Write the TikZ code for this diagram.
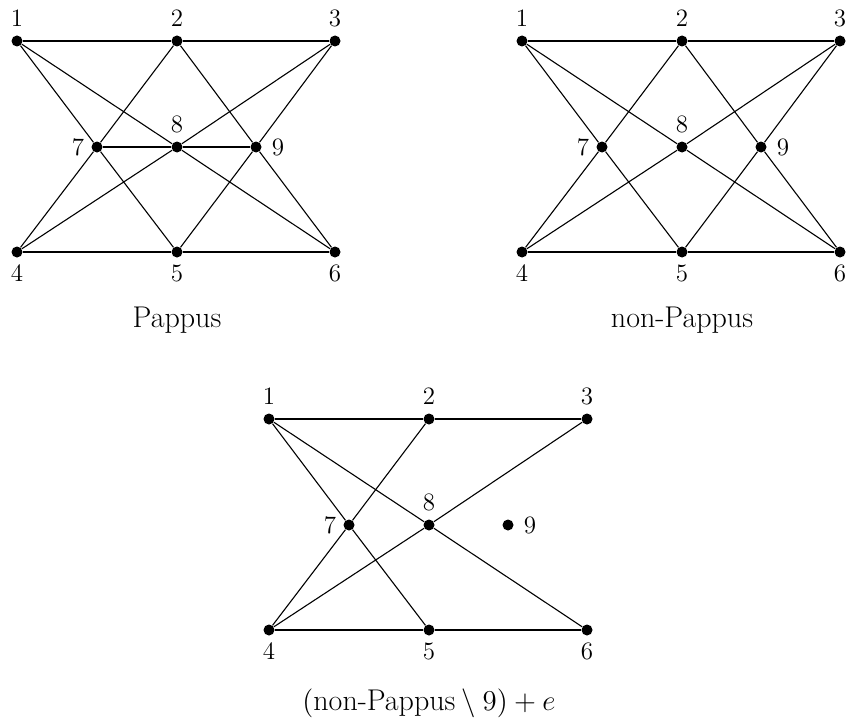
\documentclass[tikz,border=0pt]{standalone}
\tikzset{
  dot/.style={circle,fill=black,inner sep=0pt,minimum size=5.5pt},
  lab/.style={inner sep=0pt,font=\fontsize{12.5}{14}\selectfont},
  heavy/.style={line width=1.1pt},
  light/.style={line width=0.55pt},
  captext/.style={inner sep=0pt,font=\fontsize{15}{18}\selectfont}
}
\newcommand\ninepts[3]{%
  \foreach \n/\x/\y/\lx/\ly in {1/17/41/0/-23, 2/177/41/0/-23, 3/335/41/0/-23,
      7/97/147/-19/0, 8/177/147/0/-23, 9/256/147/22/0,
      4/17/252/0/21, 5/177/252/0/21, 6/335/252/0/21}{
    \node[dot] (#1\n) at (\x+#2,\y+#3) {};
    \node[lab] (#1l\n) at (\x+#2+\lx,\y+#3+\ly) {\n};
  }}
\begin{document}
\begin{tikzpicture}[x=0.5pt,y=-0.5pt]
\useasboundingbox (0,0) rectangle (850,717);
% Pappus
\ninepts{a}{0}{0}
\draw[heavy] (a1) -- (a2) -- (a3);
\draw[heavy] (a4) -- (a5) -- (a6);
\draw[heavy] (a7) -- (a8) -- (a9);
\draw[light] (a1) -- (a7) -- (a5);
\draw[light] (a1) -- (a8) -- (a6);
\draw[light] (a2) -- (a7) -- (a4);
\draw[light] (a2) -- (a9) -- (a6);
\draw[light] (a3) -- (a8) -- (a4);
\draw[light] (a3) -- (a9) -- (a5);
\node[captext] (capa) at (177,320) {Pappus};
% non-Pappus
\ninepts{b}{505}{0}
\draw[heavy] (b1) -- (b2) -- (b3);
\draw[heavy] (b4) -- (b5) -- (b6);
\draw[light] (b1) -- (b7) -- (b5);
\draw[light] (b1) -- (b8) -- (b6);
\draw[light] (b2) -- (b7) -- (b4);
\draw[light] (b2) -- (b9) -- (b6);
\draw[light] (b3) -- (b8) -- (b4);
\draw[light] (b3) -- (b9) -- (b5);
\node[captext] (capb) at (682,320) {non-Pappus};
% (non-Pappus \ 9) + e
\ninepts{c}{252}{378}
\draw[heavy] (c1) -- (c2) -- (c3);
\draw[heavy] (c4) -- (c5) -- (c6);
\draw[light] (c1) -- (c7) -- (c5);
\draw[light] (c1) -- (c8) -- (c6);
\draw[light] (c2) -- (c7) -- (c4);
\draw[light] (c3) -- (c8) -- (c4);
\node[captext] (capc) at (429,703) {$(\mbox{non-Pappus}\setminus 9)+e$};
\end{tikzpicture}
\end{document}
